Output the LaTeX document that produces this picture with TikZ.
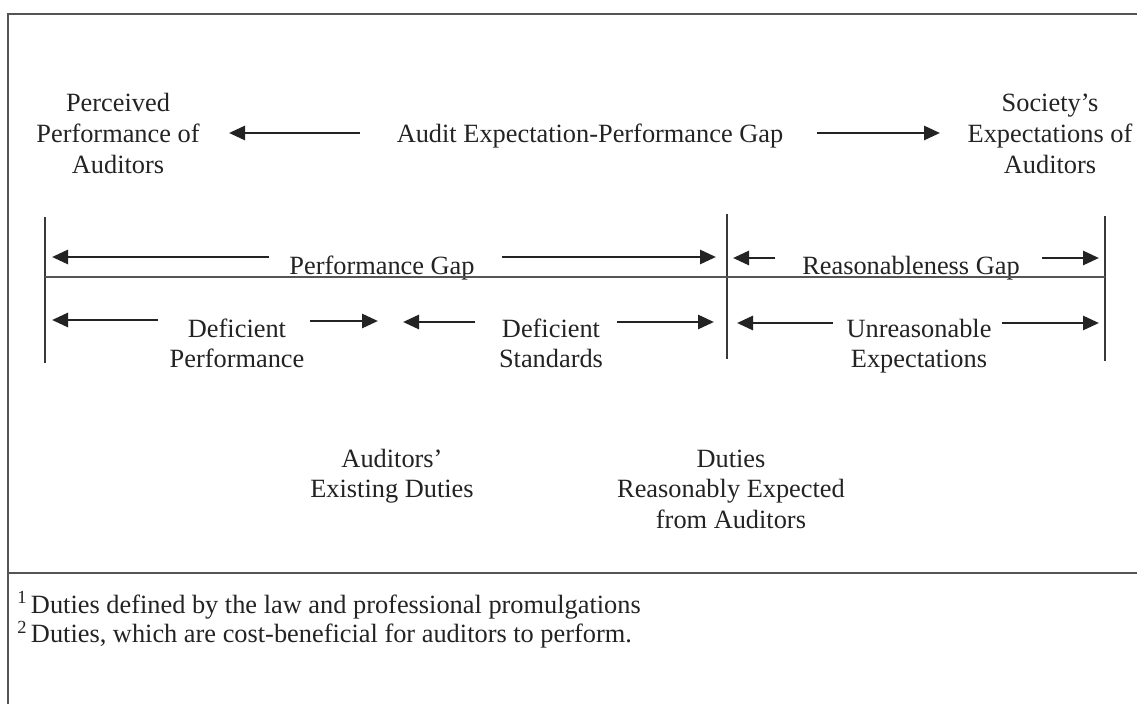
\documentclass[tikz,border=0pt]{standalone}
\usepackage{fontspec}
\setmainfont{Liberation Serif}
\usetikzlibrary{arrows.meta}
\newcommand{\mlines}[1]{\begin{tabular}[t]{@{}c@{}}#1\end{tabular}}
\newcommand{\llines}[1]{\begin{tabular}[t]{@{}l@{}}#1\end{tabular}}
\definecolor{ink}{RGB}{35,35,35}
\definecolor{rule}{RGB}{85,85,85}
\begin{document}
\begin{tikzpicture}[x=0.2mm,y=-0.2mm,
  txt/.style={inner sep=0pt,anchor=base,text=ink,font=\fontsize{15}{17.5}\selectfont},
  fn/.style={inner sep=0pt,anchor=base west,text=ink,font=\fontsize{15}{14.8}\selectfont},
  arr/.style={draw=ink,line width=1.6pt,-{Triangle[length=3.2mm,width=2.8mm]}},
  frame/.style={draw=rule,line width=1.2pt},
  tick/.style={draw=ink!90,line width=1.1pt},
  base/.style={draw=rule,line width=1.4pt}]
\useasboundingbox (0,0) rectangle (1137,704);
\fill[white] (0,0) rectangle (1137,704);
% frame
\coordinate (fbl) at (8,704);
\coordinate (ftl) at (8,14);
\coordinate (ftr) at (1137,14);
\coordinate (sepl) at (8,573);
\coordinate (sepr) at (1137,573);
\draw[frame] (fbl) -- (ftl) -- (ftr);
\draw[frame] (sepl) -- (sepr);
% texts
\node[txt] (perc) at (118,112) {\mlines{Perceived\\Performance of\\Auditors}};
\node[txt] (aepg) at (590,143) {Audit Expectation-Performance Gap};
\node[txt] (soc) at (1050,112) {\mlines{Society’s\\Expectations of\\Auditors}};
\node[txt] (pg) at (382,275) {Performance Gap};
\node[txt] (rg) at (911,275) {Reasonableness Gap};
\node[txt] (dp) at (237,337) {\mlines{Deficient\\Performance}};
\node[txt] (ds) at (551,337) {\mlines{Deficient\\Standards}};
\node[txt] (ue) at (919,337) {\mlines{Unreasonable\\Expectations}};
\node[txt] (aed) at (392,467) {\mlines{Auditors’\\Existing Duties}};
\node[txt] (dre) at (731,467) {\mlines{Duties\\Reasonably Expected\\from Auditors}};
\node[fn] (fns) at (17,613) {\llines{\textsuperscript{1}\hspace{2pt}Duties defined by the law and professional promulgations\\
\textsuperscript{2}\hspace{2pt}Duties, which are cost-beneficial for auditors to perform.}};
% vertical ticks and base line
\coordinate (vLt) at (45,217); \coordinate (vLb) at (45,363);
\coordinate (vMt) at (727,214); \coordinate (vMb) at (727,359);
\coordinate (vRt) at (1105,216); \coordinate (vRb) at (1105,361);
\coordinate (hL) at (45,277); \coordinate (hR) at (1105,277);
\draw[tick] (vLt) -- (vLb);
\draw[tick] (vMt) -- (vMb);
\draw[tick] (vRt) -- (vRb);
\draw[base] (hL) -- (hR);
% top arrows
\coordinate (a1s) at (360,133); \coordinate (a1e) at (229,133);
\coordinate (a2s) at (817,133); \coordinate (a2e) at (940,133);
\draw[arr] (a1s) -- (a1e);
\draw[arr] (a2s) -- (a2e);
% gap arrows
\coordinate (b1s) at (269,257); \coordinate (b1e) at (52,257);
\coordinate (b2s) at (502,257); \coordinate (b2e) at (716,257);
\coordinate (b3s) at (775,258); \coordinate (b3e) at (733,258);
\coordinate (b4s) at (1042,258); \coordinate (b4e) at (1099,258);
\draw[arr] (b1s) -- (b1e);
\draw[arr] (b2s) -- (b2e);
\draw[arr] (b3s) -- (b3e);
\draw[arr] (b4s) -- (b4e);
% component arrows
\coordinate (c1s) at (158,320); \coordinate (c1e) at (52,320);
\coordinate (c2s) at (310,321); \coordinate (c2e) at (378,321);
\coordinate (c3s) at (475,322); \coordinate (c3e) at (403,322);
\coordinate (c4s) at (617,322); \coordinate (c4e) at (714,322);
\coordinate (c5s) at (833,323); \coordinate (c5e) at (737,323);
\coordinate (c6s) at (1002,323); \coordinate (c6e) at (1099,323);
\draw[arr] (c1s) -- (c1e);
\draw[arr] (c2s) -- (c2e);
\draw[arr] (c3s) -- (c3e);
\draw[arr] (c4s) -- (c4e);
\draw[arr] (c5s) -- (c5e);
\draw[arr] (c6s) -- (c6e);
\end{tikzpicture}
\end{document}
